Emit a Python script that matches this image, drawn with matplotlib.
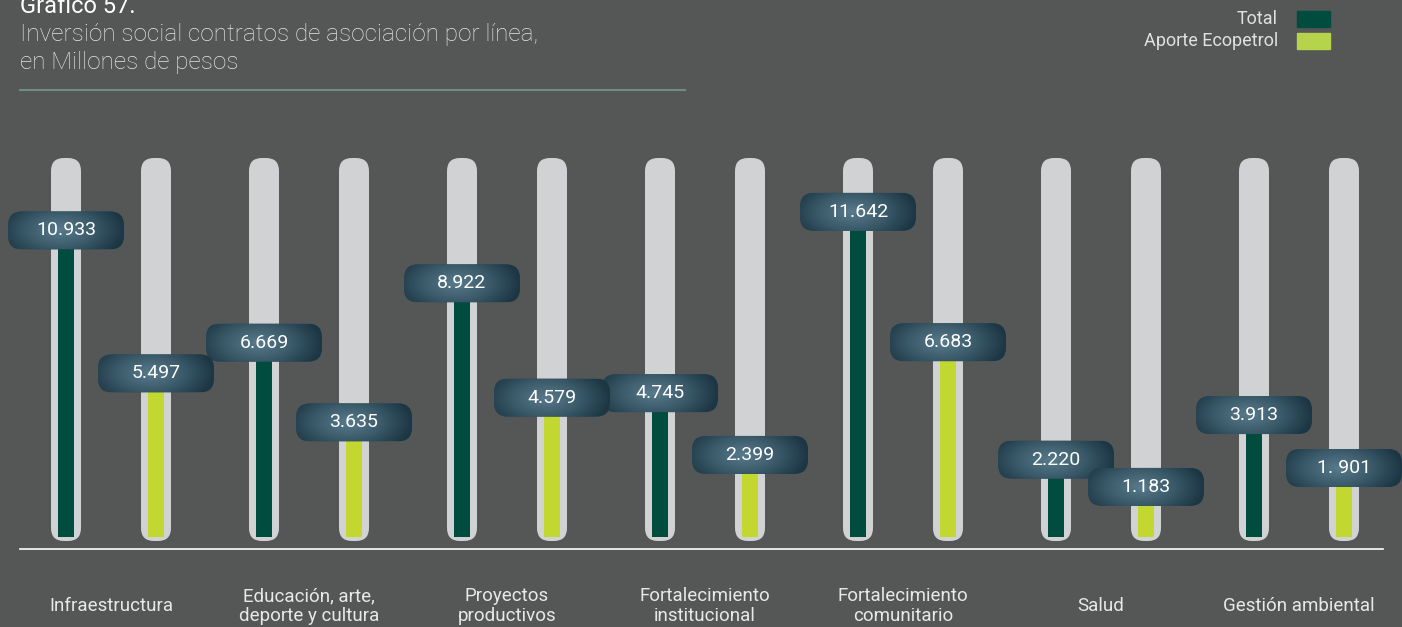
import numpy as np
import matplotlib
matplotlib.use("Agg")
import matplotlib.pyplot as plt
from matplotlib.patches import FancyBboxPatch, Rectangle
from matplotlib.colors import LinearSegmentedColormap

# datos del grafico (millones de pesos)
categorias = ["Infraestructura", "Educación, arte,\ndeporte y cultura", "Proyectos\nproductivos",
              "Fortalecimiento\ninstitucional", "Fortalecimiento\ncomunitario", "Salud",
              "Gestión ambiental"]
total = [10.933, 6.669, 8.922, 4.745, 11.642, 2.220, 3.913]
aporte = [5.497, 3.635, 4.579, 2.399, 6.683, 1.183, 1.901]
etiquetas_total = ["10.933", "6.669", "8.922", "4.745", "11.642", "2.220", "3.913"]
etiquetas_aporte = ["5.497", "3.635", "4.579", "2.399", "6.683", "1.183", "1. 901"]
series = ["Total", "Aporte Ecopetrol"]

# colores
bg = "#555756"
track_col = "#d1d2d4"
col_total = "#004d3f"
col_aporte = "#c2d72f"
leg_total = "#004d3f"
leg_aporte = "#b5d44b"
FONT = "Roboto"

W, H = 1402, 627
fig = plt.figure(figsize=(W / 100, H / 100), dpi=100, facecolor=bg)
ax = fig.add_axes([0, 0, 1, 1])
ax.set_facecolor(bg)
ax.axis("off")

# escala: pixeles por unidad
X0, SX = 111, 198   # centro del primer grupo, separacion entre grupos
Y0, SY = 518, 26.3  # cero del eje, px por millon
aspect = SX / SY


def px(x, y):
    return x / W, 1 - y / H


grupos = np.arange(len(categorias))
off = 45 / SX
track_w = 30 / SX
track_top = (Y0 - 158) / SY
track_bot = (Y0 - 541) / SY
fill_bot = (Y0 - 537) / SY
fill_w = 16 / SX
badge_w = 116 / SX
badge_h = 38 / SY

cmap = LinearSegmentedColormap.from_list("badge", ["#587a8a", "#3c5c6c", "#1d3644"])
yy, xx = np.mgrid[-1:1:60j, -1:1:160j]
grad = np.sqrt((xx + 0.1) ** 2 * 0.9 + yy ** 2 * 0.35)

for xs, vals, labs, col in [(grupos - off, total, etiquetas_total, col_total),
                            (grupos + off, aporte, etiquetas_aporte, col_aporte)]:
    for x in xs:
        # riel gris
        tr = FancyBboxPatch((x - track_w / 2, track_bot), track_w, track_top - track_bot,
                            boxstyle="round,pad=0,rounding_size=%f" % (13 / SX),
                            mutation_aspect=aspect, fc=track_col, ec="none", zorder=1)
        ax.add_patch(tr)
    # relleno
    ax.bar(xs, np.array(vals) - fill_bot, bottom=fill_bot, width=fill_w, color=col, zorder=2)
    for x, v, lab in zip(xs, vals, labs):
        bx = FancyBboxPatch((x - badge_w / 2, v - badge_h / 2), badge_w, badge_h,
                            boxstyle="round,pad=0,rounding_size=%f" % (14 / SX),
                            mutation_aspect=aspect, fc="#2e4c5b", ec="none", zorder=3)
        ax.add_patch(bx)
        im = ax.imshow(grad, cmap=cmap, vmin=0, vmax=1.05, aspect="auto", zorder=3.5,
                       extent=(x - badge_w / 2, x + badge_w / 2, v - badge_h / 2, v + badge_h / 2),
                       interpolation="bilinear")
        im.set_clip_path(bx)
        ax.text(x, v, lab, color="white", fontsize=14, family=FONT,
                ha="center", va="center", zorder=4)

ax.set_xlim(-X0 / SX, (W - X0) / SX)
ax.set_ylim(-(H - Y0) / SY, Y0 / SY)

# linea base
ax.axhline((Y0 - 549) / SY, xmin=20 / W, xmax=1383 / W, color="white", lw=1.2, zorder=2)

# etiquetas de categorias
for g, c in zip(grupos, categorias):
    ax.text(g, (Y0 - 606) / SY, c, color="#e8e8e8", fontsize=13.5, family=FONT,
            ha="center", va="center", linespacing=1.15)

# titulo
fig.text(*px(20, 13), "Gráfico 57.", color="white", fontsize=17, family=FONT, va="baseline")
fig.text(*px(20, 35), "Inversión social contratos de asociación por línea,", color="#e4e4e4",
         fontsize=17.5, family=FONT, fontweight="light", va="center")
fig.text(*px(20, 62), "en Millones de pesos", color="#e4e4e4", fontsize=17.5, family=FONT,
         fontweight="light", va="center")
fig.add_artist(plt.Line2D([20 / W, 685 / W], [1 - 90 / H] * 2, color="#6f8c80", lw=1.5,
                          transform=fig.transFigure))

# leyenda
for i, (s, c) in enumerate(zip(series, [leg_total, leg_aporte])):
    yc = 19 + 22 * i
    fig.text(*px(1278, yc), s, color="#e0e0e0", fontsize=13, family=FONT,
             ha="right", va="center")
    fig.add_artist(Rectangle(px(1297, yc + 8), 33 / W, 16 / H, color=c,
                             transform=fig.transFigure))

fig.savefig("out.png", dpi=100, facecolor=bg)
